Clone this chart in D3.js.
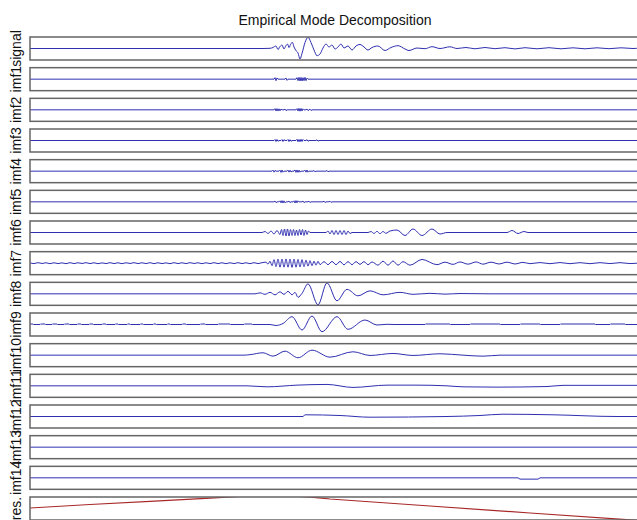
<!DOCTYPE html>
<html><head><meta charset="utf-8">
<script src="https://cdn.jsdelivr.net/npm/d3@7"></script>
<style>html,body{margin:0;padding:0;background:#fff;overflow:hidden}</style>
</head><body><svg id="c" width="637" height="520"></svg>
<script>
// ---- data: [sample index, normalised amplitude] ----
const title = "Empirical Mode Decomposition";
const rowLabels = ["signal","imf1","imf2","imf3","imf4","imf5","imf6","imf7","imf8","imf9","imf10","imf11","imf12","imf13","imf14","res."];

const signal = [[0,0],[233,0],[240,0.02],[243,0.1],[246,0.25],[248,-0.1],[250,0.2],[252,0.35],[254,-0.05],[256,0.3],[257.5,0.45],[259,0.1],[261,0.5],[262.5,0.6],[264,0.15],[266,-0.2],[268,-0.45],[270,-1.05],[272,-0.5],[275,0.6],[278,1.12],[281,0.6],[284,-0.15],[287,-0.72],[290,-0.55],[293,0.05],[296,0.45],[299,0.15],[302,0.35],[305,-0.05],[308,0.15],[311,0.45],[314,0.05],[318,0.25],[322,-0.15],[326,0.25],[330,0.4],[334,0.15],[338,-0.15],[342,0.1],[348,0.25],[355,-0.2],[361,0.1],[368,0.28],[375,-0.05],[379,-0.2],[387,0.05],[395,-0.02],[402,0.18],[410,0],[420,0.17],[427,0],[436,0.1],[445,-0.03],[455,0.1],[465,-0.02],[475,0.08],[485,-0.04],[495,0.08],[507,-0.03],[519,0.08],[531,-0.03],[543,0.07],[555,-0.03],[567,0.07],[579,-0.02],[591,0.07],[603,0],[610,0.05]];

const imf1 = [[0,0],[244,0],[245,0.15],[246,-0.15],[247,0.12],[248,0],[255,0],[256,0.12],[257,-0.12],[258,0],[266,0],[267,0.15],[268,-0.15],[269,0.18],[270,-0.18],[271,0.18],[272,-0.18],[273,0.15],[274,-0.15],[275,0.18],[276,-0.15],[277,0.1],[278,0],[610,0]];

const imf2 = [[0,0],[244,0],[245,0.12],[246,-0.12],[247,0.12],[248,-0.12],[249,0.1],[250,-0.1],[251,0.08],[252,0],[254,0],[255,0.08],[256,-0.08],[257,0],[266,0],[267,0.12],[268,-0.12],[269,0.14],[270,-0.14],[271,0.14],[272,-0.12],[273,0.1],[274,0],[276,0],[277,0.08],[278,-0.08],[279,0],[280,0.07],[281,-0.07],[282,0],[610,0]];

const imf3 = [[0,0],[244,0],[245,0.1],[246,-0.1],[247,0.1],[248,-0.08],[249,0],[251,0],[252,0.1],[253,-0.1],[254,0.08],[255,0],[257,0],[258,0.1],[259,-0.1],[260,0.08],[261,-0.08],[262,0],[266,0],[267,0.12],[268,-0.12],[269,0.1],[270,-0.12],[271,0.12],[272,-0.1],[273,0.1],[274,0],[276,0],[277,0.08],[278,-0.08],[279,0],[286,0],[287,0.07],[288,-0.07],[289,0],[610,0]];

const imf4 = [[0,0],[242,0],[243,0.1],[244,-0.1],[245,0.08],[246,0],[249,0],[250,0.1],[251,-0.12],[252,0.12],[253,-0.1],[254,0],[257,0],[258,0.1],[259,-0.1],[260,0.1],[261,-0.08],[262,0],[264,0],[265,0.12],[266,-0.12],[267,0.12],[268,-0.12],[269,0.1],[270,-0.1],[271,0],[274,0],[275,0.1],[276,-0.1],[277,0.12],[278,-0.1],[279,0],[283,0],[284,0.07],[285,-0.07],[286,0],[296,0],[297,0.07],[298,-0.07],[299,0],[610,0]];

const imf5 = [[0,0],[244,0],[245,0.08],[246,-0.08],[247,0],[249,0],[250,0.1],[251,-0.1],[252,0.12],[253,-0.12],[254,0.1],[255,-0.1],[256,0],[258,0],[259,0.08],[260,-0.08],[261,0],[263,0],[264,0.1],[265,-0.12],[266,0.12],[267,-0.1],[268,0.1],[269,0],[272,0],[273,0.08],[274,-0.08],[275,0],[278,0],[279,0.07],[280,-0.07],[281,0],[293,0],[294,0.07],[295,-0.07],[296,0],[299,0],[300,0.06],[301,-0.06],[302,0],[610,0]];

const imf6 = [[0,0],[232,0],[235,0.1],[238,-0.1],[241,0.15],[244,-0.15],[247,0.2],[250,-0.2],[251.5,0.3],[253,-0.3],[254.5,0.35],[256,-0.35],[257.5,0.35],[259,-0.35],[260.5,0.3],[262,-0.3],[263.5,0.3],[265,-0.3],[266.5,0.25],[268,-0.3],[269.5,0.3],[271,-0.25],[272.5,0.3],[274,-0.3],[275.5,0.25],[277,-0.2],[278.5,0.15],[280,0],[296,0],[298,0.15],[300,-0.15],[302,0.2],[304,-0.2],[306,0.2],[308,-0.2],[310,0.2],[312,-0.2],[314,0.2],[316,-0.2],[318,0.15],[320,-0.1],[322,0],[338,0],[341,0.1],[344,-0.1],[347,0.12],[350,-0.12],[353,0.1],[356,-0.08],[360,0.15],[367,0.25],[375,-0.3],[383,0.35],[392,-0.3],[402,0.35],[410,-0.15],[417,0],[477,0],[482,0.2],[488,-0.1],[494,0.1],[498,0],[610,0]];

const imf7 = [[0,0.04],[4,-0.04],[8,0.05],[12,-0.03],[16,0.04],[20,-0.05],[24,0.04],[28,-0.04],[32,0.03],[36,-0.05],[40,0.05],[44,-0.04],[48,0.04],[52,-0.03],[56,0.05],[60,-0.04],[64,0.04],[68,-0.05],[72,0.03],[76,-0.04],[80,0.05],[84,-0.04],[88,0.04],[92,-0.05],[96,0.04],[100,-0.03],[104,0.05],[108,-0.04],[112,0.04],[116,-0.04],[120,0.05],[124,-0.05],[128,0.04],[132,-0.04],[136,0.03],[140,-0.05],[144,0.05],[148,-0.04],[152,0.04],[156,-0.04],[160,0.05],[164,-0.03],[168,0.04],[172,-0.05],[176,0.04],[180,-0.04],[184,0.05],[188,-0.04],[192,0.04],[196,-0.05],[200,0.04],[204,-0.04],[208,0.05],[212,-0.04],[216,0.04],[220,-0.05],[224,0.05],[228,-0.04],[232,0.05],[236,0.1],[238,-0.1],[240,0.2],[242,-0.25],[244,0.35],[246,-0.35],[248,0.4],[250,-0.4],[252,0.4],[254,-0.4],[256,0.42],[258,-0.4],[260,0.4],[262,-0.42],[264,0.4],[266,-0.4],[268,0.38],[270,-0.38],[272,0.35],[274,-0.35],[276,0.3],[278,-0.3],[280,0.25],[282,-0.25],[284,0.2],[286,-0.2],[288,0.18],[290,-0.15],[294,0.15],[298,-0.15],[302,0.17],[306,-0.15],[310,0.17],[314,-0.17],[318,0.15],[322,-0.15],[326,0.15],[330,-0.12],[334,0.15],[338,-0.15],[342,0.12],[348,-0.2],[353,0.2],[358,-0.2],[363,0.22],[368,-0.2],[373,0.15],[380,-0.2],[392,0.37],[407,-0.15],[415,0.1],[423,-0.12],[430,0.12],[438,-0.1],[446,0.12],[453,-0.1],[461,0.1],[469,-0.08],[477,0.1],[485,-0.08],[493,0.08],[500,-0.05],[510,0.06],[520,-0.05],[530,0.06],[540,-0.05],[550,0.05],[560,-0.05],[570,0.05],[580,-0.04],[590,0.05],[600,-0.04],[610,0.03]];

const imf8 = [[0,0],[225,0],[230,0.1],[235,-0.05],[240,0.15],[245,-0.1],[250,0.2],[254,-0.05],[258,0.25],[262,-0.1],[265,0.15],[268,-0.35],[272,0.05],[278,1.0],[288,-1.1],[297,1.1],[307,-0.7],[317,0.45],[328,-0.2],[340,0.3],[353,-0.1],[370,0.15],[383,-0.05],[400,0.05],[415,-0.03],[430,0.03],[460,0],[610,0]];

const imf9 = [[0,0.05],[3,0.05],[3.5,0],[10,0],[10.5,0.05],[15,0.05],[15.5,0],[22,0],[22.5,0.05],[27,0.05],[27.5,0],[34,0],[34.5,0.05],[39,0.05],[39.5,0],[47,0],[47.5,0.05],[51,0.05],[51.5,0],[59,0],[59.5,0.05],[63,0.05],[63.5,0],[72,0],[72.5,0.05],[76,0.05],[76.5,0],[85,0],[85.5,0.05],[88,0.05],[88.5,0],[97,0],[97.5,0.05],[100,0.05],[100.5,0],[110,0],[110.5,0.05],[113,0.05],[113.5,0],[123,0],[123.5,0.05],[126,0.05],[126.5,0],[137,0],[137.5,0.05],[140,0.05],[140.5,0],[152,0],[152.5,0.05],[156,0.05],[156.5,0],[170,0],[170.5,0.05],[175,0.05],[175.5,0],[188,0],[188.5,0.05],[200,0.05],[200.5,0],[214,0],[214.5,0.05],[222,0.05],[222.5,0],[240,0],[246,-0.1],[253,0.1],[262,0.78],[272,-0.55],[282,0.85],[292,-0.72],[307,0.78],[318,-0.48],[335,0.45],[347,-0.05],[357,0.02],[365,0],[395,0],[395.5,0.05],[420,0.05],[420.5,0],[440,0],[440.5,0.05],[470,0.05],[470.5,0],[490,0],[490.5,0.05],[510,0.05],[510.5,0],[530,0],[530.5,0.05],[565,0.05],[565.5,0],[580,0],[580.5,0.05],[595,0.05],[595.5,0],[610,0]];

const imf10 = [[0,0],[213,0],[220,0.05],[233,0.24],[243,-0.1],[255,0.4],[268,-0.26],[282,0.5],[300,-0.2],[323,0.34],[340,-0.03],[363,0.17],[383,-0.03],[410,0.14],[433,0],[453,-0.1],[470,0],[610,0]];

const imf11 = [[0,0],[217,0],[237,-0.1],[267,0.07],[297,0.14],[323,-0.16],[357,0.07],[387,0.07],[417,0],[433,-0.1],[467,-0.13],[517,-0.07],[533,0.05],[610,0.05]];

const imf12 = [[0,0],[273,0],[275,0.17],[310,0.1],[340,-0.07],[417,0],[450,0.1],[473,0.23],[523,0.17],[587,0],[610,0]];

const imf13 = [[0,0],[610,0]];

const imf14 = [[0,0],[488,0],[490,-0.13],[508,-0.13],[510,0],[610,0]];

const residual = [[0,0.05],[60,0.4],[120,0.72],[180,1.04],[210,1.2],[245,1.3],[278,1.17],[300,0.95],[400,0.25],[500,-0.45],[593,-1.08],[610,-1.2]];

const seriesList = [signal,imf1,imf2,imf3,imf4,imf5,imf6,imf7,imf8,imf9,imf10,imf11,imf12,imf13,imf14,residual];

// ---- drawing ----
const svg = d3.select("#c");
svg.append("rect").attr("width",637).attr("height",520).attr("fill","#fff");

const x = d3.scaleLinear().domain([0,610]).range([30,640]);
const rows = d3.scaleBand().domain(rowLabels).range([37,520]).paddingInner(0.25).paddingOuter(0);
const bw = rows.bandwidth();
const y = d3.scaleLinear().domain([-1.15,1.15]).range([bw,0]);
const smoothLine = d3.line().x(d=>x(d[0])).y(d=>y(d[1])).curve(d3.curveMonotoneX);
const sharpLine = d3.line().x(d=>x(d[0])).y(d=>y(d[1]));
const sharpRows = new Set(["imf1","imf2","imf3","imf4","imf5","res."]);

svg.append("text").attr("x",(x.range()[0]+x.range()[1])/2).attr("y",25)
  .attr("text-anchor","middle").attr("font-family","Liberation Sans, Arial, sans-serif")
  .attr("font-size",14).attr("fill","#111").text(title);

rowLabels.forEach((lab,i)=>{
  const g = svg.append("g").attr("transform",`translate(0,${rows(lab)})`);
  const cid = "clip"+i;
  g.append("clipPath").attr("id",cid).append("rect")
    .attr("x",x.range()[0]).attr("y",0).attr("width",x.range()[1]-x.range()[0]).attr("height",bw);
  g.append("path").datum(seriesList[i]).attr("clip-path",`url(#${cid})`)
    .attr("d", sharpRows.has(lab) ? sharpLine : smoothLine).attr("fill","none")
    .attr("stroke", lab==="res." ? "#a82828" : "#2f2fb0")
    .attr("stroke-width", lab==="res." ? 1.2 : 1);
  g.append("rect").attr("x",x.range()[0]).attr("y",0)
    .attr("width",x.range()[1]-x.range()[0]).attr("height",bw)
    .attr("fill","none").attr("stroke","#666").attr("stroke-width",1.5);
  svg.append("text").attr("transform",`translate(21,${rows(lab)+bw/2}) rotate(-90)`)
    .attr("text-anchor","middle").attr("font-family","Liberation Sans, Arial, sans-serif")
    .attr("font-size",14).attr("fill","#111").text(lab);
});
</script></body></html>
